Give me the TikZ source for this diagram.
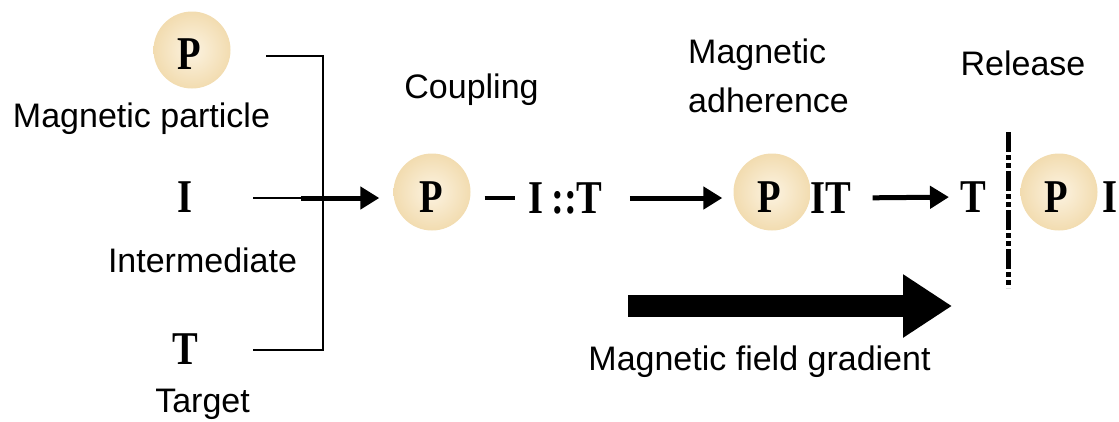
\documentclass[tikz,border=0pt]{standalone}
\usepackage{fontspec}
\setmainfont{Liberation Sans}
\newfontfamily\serifsym{Liberation Serif}[FakeStretch=0.82]
\usetikzlibrary{arrows.meta}
\definecolor{beigeout}{RGB}{242,220,176}
\definecolor{beigein}{RGB}{252,243,225}
\tikzset{
  lbl/.style={font=\fontsize{34}{40}\selectfont, inner sep=0pt, anchor=base, text=black},
  sym/.style={font=\serifsym\bfseries\fontsize{47}{50}\selectfont, inner sep=0pt, text=black},
  particle/.style={circle, minimum size=77pt, inner sep=0pt, inner color=beigein, outer color=beigeout},
  thinline/.style={line width=2.8pt},
  dashline/.style={line width=3.5pt},
  flow/.style={line width=5pt, -{Triangle[length=19pt,width=22pt]}},
  bigflow/.style={line width=22pt, -{Triangle[length=49pt,width=60pt]}},
  barrier/.style={line width=5pt, dash pattern={on 20pt off 3pt on 5pt off 3pt on 5pt off 3pt}}
}
\begin{document}
\begin{tikzpicture}[x=1pt,y=-1pt]
\useasboundingbox (0,0) rectangle (1119,421);
% left column
\node[particle] (c1) at (192,50) {};
\node[sym] (p1) at (189,54) {P};
\node[lbl] (mp) at (141.5,127) {Magnetic particle};
\node[sym] (i1) at (185,197) {I};
\node[lbl] (inter) at (202.5,272) {Intermediate};
\node[sym] (t1) at (185,349) {T};
\node[lbl] (target) at (202.5,412) {Target};
% bracket
\coordinate (brTL) at (266,56);
\coordinate (brTR) at (323,56);
\coordinate (brBR) at (323,350);
\coordinate (brBL) at (253,350);
\coordinate (iEnd) at (253,198);
\coordinate (jn) at (323,198);
\coordinate (aStart) at (301,198);
\draw[thinline] (brTL) -- (brTR) -- (brBR) -- (brBL);
\draw[thinline] (iEnd) -- (jn);
% coupling
\node[lbl] (coup) at (471.5,98) {Coupling};
\node[particle] (c2) at (432,192) {};
\node[sym] (p2) at (431,197) {P};
\node[sym] (ixt) at (565.5,198) {I\,::T};
\draw[flow, shorten >=14pt] (aStart) -- (aStart -| c2.west);
\draw[dashline, shorten <=14pt, shorten >=13pt] (ixt.west -| c2.east) -- (ixt.west);
% adherence
\node[lbl, anchor=base west] (mag) at (688,63) {Magnetic};
\node[lbl, anchor=base west] (adh) at (688,112) {adherence};
\node[particle] (c3) at (772,192) {};
\node[sym] (p3) at (769,197) {P};
\node[sym] (it) at (831,198) {IT};
\draw[flow, shorten <=27pt, shorten >=11pt] (ixt.east) -- (ixt.east -| c3.west);
% release
\node[lbl] (rel) at (1023,75) {Release};
\node[sym] (t3) at (973,197) {T};
\draw[flow, shorten <=21pt, shorten >=11pt] (it.east) -- (t3.west);
\coordinate (barTop) at (1008,132);
\coordinate (barBot) at (1008,288);
\draw[barrier] (barTop) -- (barBot);
\node[particle] (c4) at (1059,192) {};
\node[sym] (p4) at (1056,197) {P};
\node[sym, anchor=west] (i4) at (1102,197) {I};
% gradient
\coordinate (gS) at (628,306);
\coordinate (gE) at (952,306);
\draw[bigflow] (gS) -- (gE);
\node[lbl] (grad) at (759.5,370) {Magnetic field gradient};
\end{tikzpicture}
\end{document}
